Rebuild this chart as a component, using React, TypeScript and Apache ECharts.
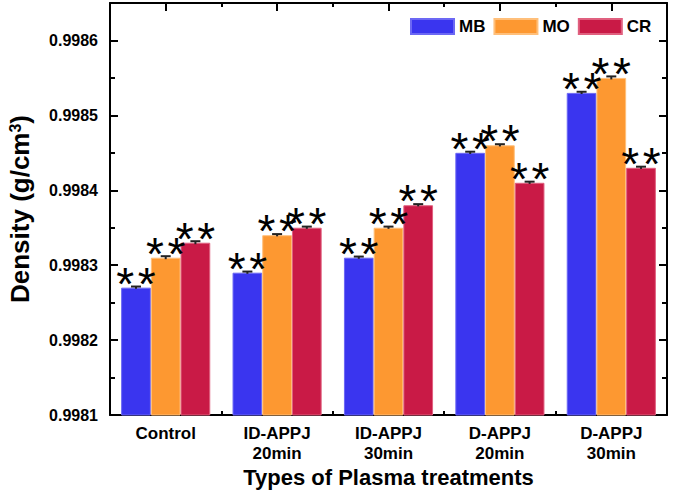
import React, { useEffect, useRef } from "react";
import * as echarts from "echarts";

const categories = ["Control", "ID-APPJ\n20min", "ID-APPJ\n30min", "D-APPJ\n20min", "D-APPJ\n30min"];
const seriesNames = ["MB", "MO", "CR"];
const mbValues = [0.99827, 0.99829, 0.99831, 0.99845, 0.99853];
const moValues = [0.99831, 0.99834, 0.99835, 0.99846, 0.99855];
const crValues = [0.99833, 0.99835, 0.99838, 0.99841, 0.99843];
const mbErrors = [0.0000015, 0.0000015, 0.0000015, 0.0000015, 0.0000015];
const moErrors = [0.000002, 0.0000015, 0.0000015, 0.0000015, 0.000002];
const crErrors = [0.000002, 0.0000015, 0.0000015, 0.0000015, 0.0000015];
const sigLabel = "{s|*}{g| }{s|*}";
const colors = ["#3a35ef", "#fd9831", "#c91a46"];
const borderColors = ["#6c68f4", "#ffbf7a", "#e0607f"];

const FONT = "Arial, 'Liberation Sans', sans-serif";

export default function App() {
  const ref = useRef<HTMLDivElement>(null);
  useEffect(() => {
    document.body.style.margin = "0";
    if (!ref.current) return;
    const chart = echarts.init(ref.current, null, { renderer: "svg" });
    const values = [mbValues, moValues, crValues];
    const errors = [mbErrors, moErrors, crErrors];
    const errData: number[][] = [];
    values.forEach((arr, si) => arr.forEach((v, ci) => errData.push([ci, si, v, errors[si][ci]])));

    const axisLine = { show: true, lineStyle: { color: "#000", width: 2 } };
    const yCommon = {
      type: "value" as const,
      min: 0.9981,
      max: 0.99865,
      interval: 0.0001,
      splitLine: { show: false },
      axisLine,
      axisTick: { show: true, inside: true, length: 8, lineStyle: { color: "#000", width: 2 } },
      minorTick: { show: true, splitNumber: 2, length: 5, lineStyle: { color: "#000", width: 2 } },
    };
    const xCenter = {
      type: "category" as const,
      data: categories,
      axisLine,
      axisTick: { show: true, inside: true, alignWithLabel: true, interval: 0, length: 8, lineStyle: { color: "#000", width: 2 } },
    };
    const xBoundary = {
      type: "category" as const,
      data: categories,
      axisLine: { show: false },
      axisLabel: { show: false },
      axisTick: { show: true, inside: true, interval: 0, length: 4, lineStyle: { color: "#000", width: 2 } },
    };

    chart.setOption({
      animation: false,
      grid: { left: 110, right: 8, top: 3, bottom: 75, containLabel: false, outerBoundsMode: "none" },
      legend: {
        data: seriesNames,
        left: 405,
        top: 13,
        icon: "rect",
        itemWidth: 43,
        itemHeight: 15,
        itemGap: 8,
        textStyle: { fontFamily: FONT, fontWeight: "bold", fontSize: 17, color: "#000" },
      },
      xAxis: [
        {
          ...xCenter,
          position: "bottom",
          axisLabel: { show: true, interval: 0, fontFamily: FONT, fontWeight: "bold", fontSize: 17, lineHeight: 20, color: "#000", margin: 8 },
          name: "Types of Plasma treatments",
          nameLocation: "middle",
          nameGap: 51,
          nameMoveOverlap: false,
          nameTextStyle: { fontFamily: FONT, fontWeight: "bold", fontSize: 22, lineHeight: 22, color: "#000" },
        },
        { ...xBoundary, position: "bottom" },
        { ...xCenter, position: "top", axisLabel: { show: false } },
        { ...xBoundary, position: "top" },
      ],
      yAxis: [
        {
          ...yCommon,
          position: "left",
          axisLabel: {
            show: true,
            showMaxLabel: false,
            fontFamily: FONT,
            fontWeight: "bold",
            fontSize: 16,
            color: "#000",
            margin: 12,
            formatter: (v: number) => v.toFixed(4),
          },
          name: "Density (g/cm{sup|3})",
          nameLocation: "middle",
          nameGap: 77,
          nameMoveOverlap: false,
          nameTextStyle: {
            fontFamily: FONT,
            fontWeight: "bold",
            fontSize: 26,
            color: "#000",
            rich: {
              sup: { fontFamily: FONT, fontWeight: "bold", fontSize: 16, color: "#000", verticalAlign: "top", lineHeight: 14 },
            },
          },
        },
        { ...yCommon, position: "right", axisLabel: { show: false } },
      ],
      series: [
        ...seriesNames.map((name, i) => ({
          name,
          type: "bar",
          xAxisIndex: 0,
          yAxisIndex: 0,
          data: values[i],
          barGap: "0%",
          barCategoryGap: "20%",
          itemStyle: { color: colors[i], borderColor: borderColors[i], borderWidth: 1 },
          label: {
            show: true,
            position: "top",
            distance: -19,
            formatter: sigLabel,
            rich: {
              s: { fontFamily: FONT, fontSize: 46, lineHeight: 46, color: "#000" },
              g: { fontFamily: FONT, fontSize: 13, lineHeight: 46, color: "#000" },
            },
          },
        })),
        {
          name: "err",
          type: "custom",
          xAxisIndex: 0,
          yAxisIndex: 0,
          z: 5,
          data: errData,
          renderItem: (params: any, api: any) => {
            const ci = api.value(0);
            const si = api.value(1);
            const v = api.value(2);
            const e = api.value(3);
            const band = api.size([1, 0])[0];
            const bw = (band * 0.8) / 3;
            const c = api.coord([ci, v]);
            const x = c[0] + (si - 1) * bw;
            const top = api.coord([ci, v + e])[1];
            const bot = api.coord([ci, v - e])[1];
            const st = { stroke: "#222", lineWidth: 2 };
            return {
              type: "group",
              children: [
                { type: "line", shape: { x1: x - 5, y1: top, x2: x + 5, y2: top }, style: st },
                { type: "line", shape: { x1: x, y1: top, x2: x, y2: bot }, style: st },
              ],
            };
          },
        },
      ],
    });
    return () => chart.dispose();
  }, []);
  return <div ref={ref} style={{ width: 675, height: 490 }} />;
}
